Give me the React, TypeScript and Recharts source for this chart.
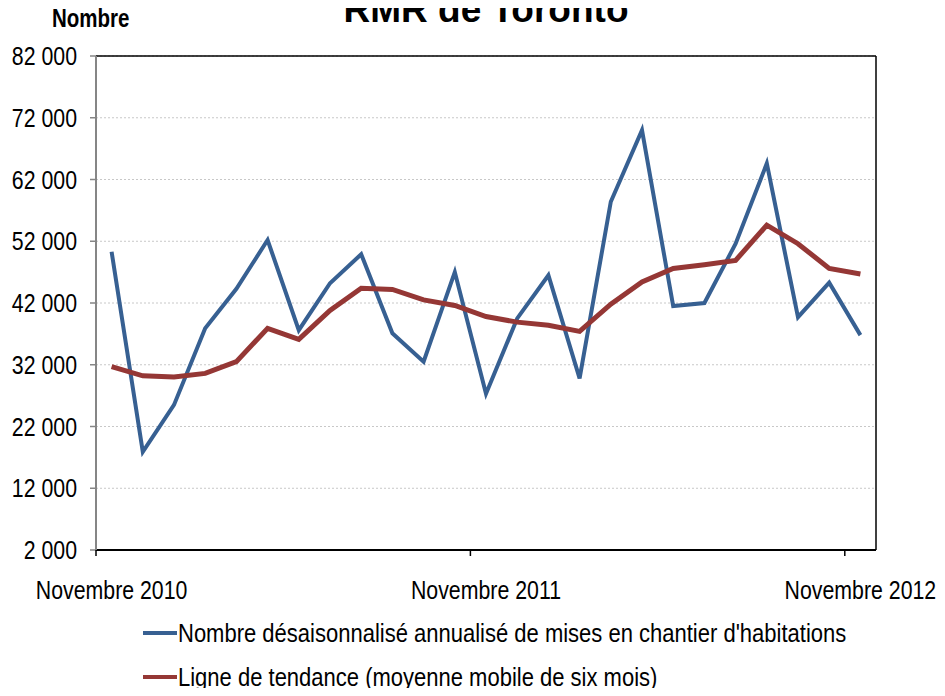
import { CartesianGrid, Legend, Line, LineChart, XAxis, YAxis } from "recharts";

const MOIS = [
    "Novembre 2010", "Décembre 2010", "Janvier 2011", "Février 2011", "Mars 2011", "Avril 2011",
    "Mai 2011", "Juin 2011", "Juillet 2011", "Août 2011", "Septembre 2011", "Octobre 2011",
    "Novembre 2011", "Décembre 2011", "Janvier 2012", "Février 2012", "Mars 2012", "Avril 2012",
    "Mai 2012", "Juin 2012", "Juillet 2012", "Août 2012", "Septembre 2012", "Octobre 2012",
    "Novembre 2012",
];

const MISES_EN_CHANTIER = [
    50300, 17900, 25500, 37900, 44300, 52200, 37600, 45200, 49900, 37100, 32500, 47000,
    27300, 39500, 46500, 29800, 58400, 70000, 41500, 42000, 51600, 64600, 39700, 45300,
    36800,
];

const TENDANCE = [
    31700, 30200, 30000, 30600, 32500, 37900, 36100, 40800, 44400, 44200, 42500, 41600,
    39800, 38900, 38400, 37400, 41800, 45400, 47600, 48200, 48900, 54600, 51600, 47600,
    46700,
];

const Y_TICKS = [2000, 12000, 22000, 32000, 42000, 52000, 62000, 72000, 82000];
const X_TICKS = ["Novembre 2010", "Novembre 2011", "Novembre 2012"];

const SERIES = [
    { key: "mises", name: "Nombre désaisonnalisé annualisé de mises en chantier d'habitations", color: "#376092", width: 4 },
    { key: "tendance", name: "Ligne de tendance (moyenne mobile de six mois)", color: "#953735", width: 5 },
];

// no narrow font installed, so Liberation Sans gets squeezed horizontally
const FONT = "'Liberation Sans', Arial, sans-serif";
const NARROW = 0.82;

const data = MOIS.map((mois, i) => ({
    mois,
    mises: MISES_EN_CHANTIER[i],
    tendance: TENDANCE[i],
}));

const fmt = (v: number) => String(v).replace(/\B(?=(\d{3})+(?!\d))/g, " ");

function XTick(props: any) {
    const { x, y, payload } = props;
    const off = payload?.offset ?? 0;
    return (
        <g>
            <line x1={x - off} x2={x - off} y1={y} y2={y + 6} stroke="#000" strokeWidth={1.5} />
            <text
                transform={`translate(${x},${y + 49}) scale(${NARROW},1)`}
                textAnchor="middle"
                fill="#000"
                fontSize={26}
                fontFamily={FONT}
            >
                {payload.value}
            </text>
        </g>
    );
}

function YTick(props: any) {
    const { x, y, payload } = props;
    return (
        <text
            transform={`translate(${x},${y + 9}) scale(${NARROW},1)`}
            textAnchor="end"
            fill="#000"
            fontSize={26}
            fontFamily={FONT}
        >
            {fmt(payload.value)}
        </text>
    );
}

function LegendContent() {
    return (
        <div style={{ fontFamily: FONT, fontSize: 25, color: "#000" }}>
            {SERIES.map(s => (
                <div key={s.key} style={{ display: "flex", alignItems: "center", height: 44, whiteSpace: "nowrap" }}>
                    <span style={{ display: "inline-block", width: 34, height: 4, background: s.color, marginRight: 1 }} />
                    <span style={{ display: "inline-block", transform: "scaleX(0.88)", transformOrigin: "left center" }}>{s.name}</span>
                </div>
            ))}
        </div>
    );
}

export default function App() {
    return (
        <div style={{ position: "relative", width: 945, height: 696, margin: -8, overflow: "hidden", background: "#fff" }}>
            <div style={{ position: "absolute", left: 0, width: 972, top: -9, textAlign: "center", fontFamily: FONT, fontWeight: "bold", fontSize: 37, lineHeight: "37px" }}>
                RMR de Toronto
            </div>
            <div style={{ position: "absolute", left: 52, top: 6, fontFamily: FONT, fontWeight: "bold", fontSize: 25, lineHeight: "25px", transform: `scaleX(${NARROW})`, transformOrigin: "left top" }}>
                Nombre
            </div>
            <LineChart
                width={945}
                height={696}
                data={data}
                margin={{ top: 55, right: 68, bottom: 0, left: 0 }}
                style={{ fontFamily: FONT }}
            >
                <CartesianGrid vertical={false} stroke="#c8c8c8" strokeDasharray="2 2" />
                <XAxis
                    dataKey="mois"
                    scale="band"
                    ticks={X_TICKS}
                    interval={0}
                    tick={<XTick />}
                    tickLine={false}
                    tickSize={0}
                    tickMargin={0}
                    height={58}
                    axisLine={{ stroke: "#000", strokeWidth: 2 }}
                />
                <XAxis
                    xAxisId="top"
                    orientation="top"
                    dataKey="mois"
                    tick={false}
                    tickLine={false}
                    height={1}
                    axisLine={{ stroke: "#000", strokeWidth: 1.5 }}
                />
                <YAxis
                    domain={[2000, 82000]}
                    ticks={Y_TICKS}
                    interval={0}
                    width={96}
                    tickSize={6}
                    tickMargin={13}
                    tick={<YTick />}
                    tickLine={{ stroke: "#868686", strokeWidth: 1.5 }}
                    axisLine={{ stroke: "#868686", strokeWidth: 2 }}
                />
                <YAxis
                    yAxisId="right"
                    orientation="right"
                    domain={[2000, 82000]}
                    tick={false}
                    tickLine={false}
                    width={1}
                    axisLine={{ stroke: "#000", strokeWidth: 1.5 }}
                />
                <Legend
                    content={<LegendContent />}
                    wrapperStyle={{ top: 611, left: 143, bottom: "auto", width: "auto", height: 88 }}
                />
                {SERIES.map(s => (
                    <Line
                        key={s.key}
                        type="linear"
                        dataKey={s.key}
                        name={s.name}
                        stroke={s.color}
                        strokeWidth={s.width}
                        dot={false}
                        activeDot={false}
                        isAnimationActive={false}
                    />
                ))}
            </LineChart>
        </div>
    );
}
